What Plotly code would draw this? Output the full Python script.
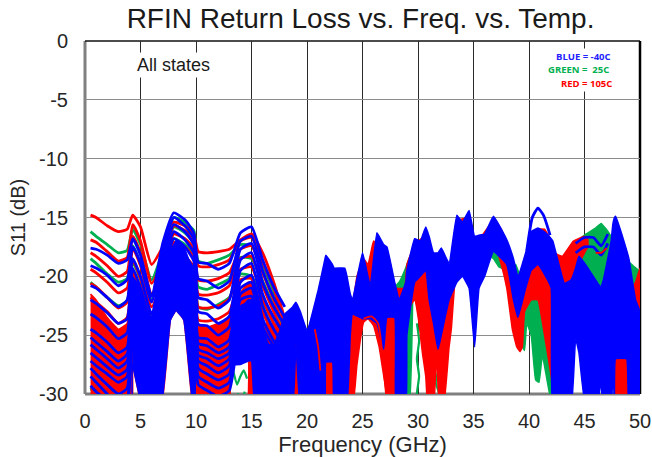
import plotly.graph_objects as go

LX = [0.5,1,2,3,3.8,4.3,5,6,7,8,9,9.8,10.2,11,12,13,14,15,16,17,18]

GREEN_LINES = [
 [-16.2,-16.6,-17.3,-18,-17.8,-16,-17.3,-20.3,-17.9,-15,-15.4,-16.1,-18.7,-18.9,-18.6,-18.2,-17.3,-17.4,-19,-21.3,-23.8],
 [-18.5,-18.9,-19.8,-20.5,-20.2,-17.4,-18.9,-22,-19,-15.8,-16.3,-17.2,-20.9,-21.1,-20.7,-20.2,-18.4,-18.5,-20.4,-22.5,-24.5],
 [-20.5,-20.9,-21.8,-22.5,-22.1,-18.8,-20.3,-23.4,-20,-16.8,-17.3,-18.2,-22.6,-22.8,-22.4,-21.8,-19.8,-20,-22,-24,-25.5],
]
RED_LINES = [
 [-14.8,-15,-15.7,-16.2,-16,-14.8,-15.8,-19,-17.5,-15.4,-15.7,-16.4,-17.9,-18,-17.9,-17.7,-16.9,-16.4,-18,-20.5,-23.6],
 [-16.9,-17.1,-17.9,-18.7,-18.4,-15.6,-17,-20.6,-18.6,-15.7,-16.1,-16.9,-19.1,-19.2,-19,-18.6,-17,-16.7,-18.8,-21,-24],
 [-18,-18.3,-19.1,-20,-19.6,-16.6,-18,-21.5,-19.4,-16.4,-16.8,-17.6,-20.3,-20.4,-20.2,-19.7,-17.7,-17.4,-19.7,-22,-24.5],
 [-19.4,-19.7,-20.5,-21.4,-21,-17.6,-19.1,-22.6,-20.2,-17.1,-17.5,-18.4,-21.5,-21.6,-21.4,-20.8,-18.5,-18.3,-20.8,-23,-25],
 [-20.6,-20.9,-21.8,-22.7,-22.2,-18.6,-20.2,-23.6,-21,-17.8,-18.3,-19.2,-22.6,-22.7,-22.5,-21.9,-19.4,-19.2,-21.9,-24,-26],
 [-21.8,-22.2,-23,-24,-23.5,-19.6,-21.3,-24.6,-21.8,-18.5,-19,-20,-23.7,-23.8,-23.6,-23,-20.3,-20.2,-23,-25,-27],
]
BLUE_LINES = [
 [-17.6,-17.7,-18.2,-18.9,-18.6,-16.8,-18.2,-21.7,-17.2,-14.6,-15.2,-16.3,-18.8,-18.9,-19.4,-18.9,-16.3,-15.8,-18.6,-20.9,-22.6],
 [-19.1,-19.3,-19.9,-20.8,-20.3,-17.5,-18.9,-22.2,-18,-15,-15.7,-16.8,-20.2,-20.4,-21,-20.4,-17,-16.6,-19.5,-21.8,-23.5],
 [-20.8,-21,-21.8,-22.6,-22,-18.5,-20,-23.2,-18.8,-15.6,-16.2,-17.3,-21.8,-22,-22.7,-22,-17.7,-17.2,-20.5,-22.6,-24.2],
 [-22,-22.3,-23.1,-24,-23.6,-19.3,-21,-24,-19.6,-16.2,-16.9,-18,-23,-23.2,-24,-23.4,-18.6,-18,-21.5,-23.5,-25],
 [-23.2,-23.5,-24.3,-25.3,-24.8,-20.2,-22,-25,-20.4,-16.8,-17.5,-18.7,-24.1,-24.2,-25,-24.3,-19.5,-18.9,-22.5,-24.5,-26],
 [-24.5,-24.8,-25.6,-26.5,-26,-21,-23,-26,-21.2,-17.4,-18.2,-19.5,-25.2,-25.3,-26,-25.4,-20.5,-19.9,-23.6,-25.5,-27],
 [-25.2,-25.6,-26.4,-27.2,-26.6,-21.5,-23.6,-26.6,-21.6,-17.8,-18.6,-19.8,-25.7,-25.9,-26.5,-26,-21,-20.5,-24.3,-26,-27.5],
 [-25.8,-26.2,-27,-27.8,-27.2,-22,-24.2,-27.2,-22,-18.2,-19,-20.2,-26.2,-26.5,-27,-26.5,-21.5,-21,-25,-26.5,-28],
 [-26.5,-26.9,-27.7,-28.4,-27.9,-22.5,-24.9,-27.9,-22.5,-18.6,-19.5,-20.7,-26.7,-27,-27.6,-27,-22,-21.7,-25.7,-27.2,-28.8],
 [-27.2,-27.6,-28.3,-29,-28.5,-23,-25.5,-28.5,-23,-19,-20,-21.2,-27.2,-27.6,-28.2,-27.6,-22.6,-22.3,-26.5,-28,-29.5],
 [-27.8,-28.3,-29.2,-30,-29.5,-23.5,-26.2,-29.2,-23.5,-19.5,-20.5,-21.8,-27.8,-28.3,-28.8,-28.3,-23.3,-23,-27.2,-29,-30.2],
 [-28.5,-29,-30,-31,-30.5,-24,-27,-30,-24,-20,-21,-22.5,-28.5,-29,-29.5,-29,-24,-24,-28,-30,-31],
 [-29.3,-29.8,-30.6,-31.5,-31,-24.6,-27.8,-30.6,-24.6,-20.6,-21.7,-23.2,-29.2,-29.7,-30.2,-29.7,-24.8,-25,-29,-31,-32],
]

# bundles too dense to separate: upper and lower edge of the trace family
GX = [35,36,36.8,37.3,38,38.5,38.8,39.2,39.4,39.6,
      39.8,40.2,40.6,40.9,41.2,41.7,42.1,42.5,43,44,
      45,45.5,46,46.5,47.2,47.6,48.2,48.6,49,49.5,50]
GTOP = [-16.8,-17,-16,-17,-18,-19,-19,-20,-20.5,-21,
        -21,-22,-20,-20,-20,-20,-20,-18.7,-18.5,-17.3,
        -16.5,-16.2,-15.9,-15.5,-16.3,-17,-20,-19.1,-18.8,-19.2,-19.6]
GBOT = [-18,-18,-18.5,-19.2,-19.5,-20,-20.5,-22,-26,-26.3,
        -24,-25,-28.8,-29,-26.7,-29.2,-31,-31,-31,-22,
        -19.5,-20,-20.4,-21,-20,-18,-19,-20,-20.5,-21,-21]
GX2 = [27.8,28.3,28.8,29.2,29.5]
GTOP2 = [-21,-20.5,-19.5,-18.5,-18]
GBOT2 = [-23,-24,-31,-31,-23]

GS_X = [[13.3,13.7,14,14.3,14.6],[13.4,13.8,14.1,14.4],[21.7,21.9,22.2,22.5,22.8],
        [26.4,27,27.4],[29.9,30.1,29.9,30.1,29.9,30.1],[31.5,31.8,31.6,31.9,31.7],[0.5,1]]
GS_Y = [[-27.8,-29.2,-28.5,-28,-28.7],[-30.5,-30,-30.5,-29.8],[-30.5,-28.3,-27.6,-28.5,-30],
        [-24,-28,-31],[-24,-25.5,-27,-28.5,-30,-31],[-26.8,-28,-29,-30,-31],[-29.5,-30.5]]

RLX = [0.5,1,2,3,3.8,4.25,4.3,5,6,6.95,7.7,
       8.2,8.9,9.66,10.2,11,12,13,13.2,14.7,14.75,15.3,16]
RLTOP = [-21.5,-22,-23.5,-24.5,-24,-19.5,-19.5,-21.5,-25,-22.5,-19.5,
         -19,-19.5,-21,-24,-24.3,-24,-23.5,-22.5,-20.5,-20.5,-21,-23]
RLBOT = [-31,-31,-31,-31,-31,-31,-27.5,-30.5,-31,-30.5,-23.7,
         -22.9,-23.7,-30.5,-31,-31,-31,-31,-27.2,-27.2,-31,-31,-31]

RX = [14.9,18,19,20,21,22,23,24.1,24.5,25.1,
      25.5,26,26.5,27,27.4,28,28.8,29,29.7,30.05,
      30.4,30.7,30.9,31.4,31.65,31.95,32.3,32.8,33,33.5,
      34.6,35.1,35.8,36.5,37,37.5,38,38.5,38.9,39.2,
      39.4,39.6,40.2,40.8,41.4,42,42.3,43,44,45,45.3]
RTOP = [-24,-24,-22.5,-25,-22,-19,-20,-22.3,-20,-18.5,
        -19,-17,-17.5,-18,-18.5,-21,-21,-19,-17.3,-17,
        -16.7,-16.2,-16.5,-18.5,-18.5,-18.2,-18.3,-19.2,-19,-15.3,
        -15,-17,-16.5,-15.6,-15.3,-16,-17.2,-18.7,-20.2,-20.3,
        -20.2,-20,-17,-16,-16,-17,-18,-18.3,-17,-16.6,-16.9]
RBOT = [-31,-31,-31,-31,-31,-31,-31,-31,-27.5,-23.9,
        -23.6,-24.2,-26,-29,-31,-31,-31,-23,-22,-23.7,
        -26.5,-28.5,-31,-31,-26.5,-31,-31,-26,-24.5,-19,
        -17.5,-18,-17.8,-17,-17.5,-19,-21,-24.5,-26,-26.4,
        -26,-23,-22,-22,-25,-28.5,-31,-31,-20,-18,-17.5]
RX4 = [47.7,48.9,49.3,49.6,50]
RTOP4 = [-22,-23,-21,-20.5,-19.3]
RBOT4 = [-31,-31,-31,-31,-31]
RS_X = [[20.7,21,21.2],[25.1,25.8,26.4,27.2],[46,46.5,47]]
RS_Y = [[-24.5,-26,-28],[-23.6,-23.4,-24,-31],[-18,-18,-17.6]]

BMX = [4.25,4.27,5,5.5,6,6.5,6.95,7.7,8.2,8.9,9.66,9.9]
BMTOP = [-20,-20,-21,-22.5,-23.5,-22,-20,-18,-17,-17.5,-19.5,-22]
BMBOT = [-31,-27.5,-30.5,-31,-31,-31,-30.5,-23.7,-22.9,-23.7,-30.5,-31]

BX = [13,13.2,14,14.7,15,15.3,16,16.5,17,17.6,
      18,18.7,19,19.4,20,21,21.6,21.7,22.3,22.45,
      23.4,23.6,23.9,24.1,25,25.7,26.3,26.9,27.2,27.9,
      28,28.3,28.9,29,29.7,30.2,30.7,31,31.4,31.8,
      32.1,32.8,33.5,34,34.6,35.1,35.5,36,36.8,38,
      38.6,39,39.7,40.2,40.8,41.5,42,42.15,43.2,43.8,
      44.2,44.5,45.1,46,46.2,46.45,46.7,47.4,47.55,47.7,
      47.8,48.8,49,49.6,50]
BTOP = [-26.5,-25,-22.8,-22,-22,-22.3,-24,-25.8,-25.8,-24.5,
        -23.2,-22.6,-22.2,-23,-24.6,-21.2,-18.6,-18.2,-19,-19.3,
        -19.3,-20,-21.5,-22,-18,-20.8,-16.3,-17.3,-17.5,-20.5,
        -20.9,-22,-20.5,-19.5,-16.8,-17,-15.8,-16.6,-18,-18,
        -17.6,-18.9,-14.8,-15.4,-14.4,-16.6,-16.5,-16.4,-14.9,-16.9,
        -18.5,-20,-18,-16.2,-15.9,-16.3,-16.8,-17,-20.6,-20.3,
        -19.3,-18.3,-19,-20.3,-20.6,-20.9,-20.3,-17,-15.6,-15,
        -14.9,-17.8,-18.5,-22,-23]
BBOT = [-27.3,-27.5,-27.5,-27.2,-27.2,-31,-31,-31,-31,-31,
        -31,-31,-25.7,-31,-31,-31,-31,-27.3,-27.3,-31,
        -31,-31,-25,-23.2,-23.6,-23.6,-24,-26.2,-23.5,-23.5,
        -31,-31,-31,-25,-20.5,-20,-19.5,-22,-24,-26.2,
        -25,-22,-20.5,-20,-21,-26,-21,-20,-17.9,-19,
        -22,-23.5,-21,-19.5,-19,-20,-21,-31,-31,-31,
        -25.3,-26.5,-31,-31,-31,-28.8,-31,-31,-27.4,-31,
        -27,-27,-31,-31,-31]
BS_X = [[44.2,45,45.8,46.5,47.1],[44.2,45,45.8,46.5,47.1],[39.8,40.3,40.8,41.3,41.9]]
BS_Y = [[-17.2,-16.7,-16.7,-17.4,-16.4],[-18,-17.5,-17.5,-18.2,-17.2],[-17.8,-15,-14.2,-14.8,-16.5]]

X_TICKS = [0,5,10,15,20,25,30,35,40,45,50]
Y_TICKS = [0,-5,-10,-15,-20,-25,-30]
Y_TICK_TEXT = ["0","-5","-10","-15","-20","-25","-30"]
GREEN, RED, BLUE = "#00b050", "#ff0000", "#0000ff"

for a, b, c in [(GX,GTOP,GBOT),(GX2,GTOP2,GBOT2),(RLX,RLTOP,RLBOT),(RX,RTOP,RBOT),(BMX,BMTOP,BMBOT),(BX,BTOP,BBOT)]:
    assert len(a) == len(b) == len(c), (len(a), len(b), len(c))

fig = go.Figure()

def curve(x, y, color, width=2.8):
    fig.add_trace(go.Scatter(x=x, y=y, mode="lines", line=dict(color=color, width=width, shape="spline", smoothing=0.5, simplify=False), hoverinfo="skip"))

def band(x, top, bot, color):
    fig.add_trace(go.Scatter(x=list(x)+list(x)[::-1], y=list(top)+list(bot)[::-1], mode="lines", fill="toself",
                             fillcolor=color, line=dict(color=color, width=1.5, shape="spline", smoothing=0.3, simplify=False), hoverinfo="skip"))

band(GX, GTOP, GBOT, GREEN)
band(GX2, GTOP2, GBOT2, GREEN)
for xs, ys in zip(GS_X, GS_Y):
    curve(xs, ys, GREEN, 2.2)
for ys in GREEN_LINES:
    curve(LX, ys, GREEN)
band(RLX, RLTOP, RLBOT, RED)
band(RX, RTOP, RBOT, RED)
band(RX4, RTOP4, RBOT4, RED)
for ys in RED_LINES:
    curve(LX, ys, RED)
band(BMX, BMTOP, BMBOT, BLUE)
band(BX, BTOP, BBOT, BLUE)
for ys in BLUE_LINES:
    curve(LX, ys, BLUE)
for xs, ys in zip(BS_X, BS_Y):
    curve(xs, ys, BLUE)
for xs, ys in zip(RS_X, RS_Y):
    curve(xs, ys, RED, 1.8)

FONT = "Liberation Sans"
fig.update_layout(
    width=652, height=457, autosize=False, showlegend=False,
    margin=dict(l=85, r=12, t=41, b=63, autoexpand=False),
    plot_bgcolor="white", paper_bgcolor="white",
    font=dict(family=FONT, color="#262626"),
    title=dict(text="RFIN Return Loss vs. Freq. vs. Temp.", font=dict(size=28, color="#1a1a1a", family=FONT),
               x=0.553, xanchor="center", y=0.96, yanchor="middle"),
    xaxis=dict(range=[0,50], tickmode="array", tickvals=X_TICKS, showgrid=True, gridcolor="#2a2a2a", gridwidth=1, zeroline=False,
               ticks="outside", ticklen=9, tickcolor="rgba(0,0,0,0)", tickfont=dict(size=20), automargin=False,
               title=dict(text="Frequency (GHz)", font=dict(size=22), standoff=4)),
    yaxis=dict(range=[-30,0], tickmode="array", tickvals=Y_TICKS, ticktext=Y_TICK_TEXT, showgrid=True, gridcolor="#8c8c8c", gridwidth=1, zeroline=False,
               ticks="outside", ticklen=12, tickcolor="rgba(0,0,0,0)", tickfont=dict(size=20), automargin=False,
               title=dict(text="S11 (dB)", font=dict(size=20), standoff=8)),
    shapes=[
        dict(type="line", xref="paper", yref="paper", x0=0, x1=0, y0=0, y1=1, line=dict(color="#808080", width=3), layer="below"),
        dict(type="line", xref="paper", yref="paper", x0=0, x1=1, y0=0, y1=0, line=dict(color="#808080", width=3), layer="below"),
        dict(type="line", xref="paper", yref="paper", x0=0, x1=1, y0=1, y1=1, line=dict(color="#111111", width=1.5), layer="below"),
        dict(type="line", xref="paper", yref="paper", x0=1, x1=1, y0=0, y1=1, line=dict(color="#000000", width=2.5), layer="below"),
    ],
    annotations=[
        dict(text="All states", x=8.0, y=-2.0, xref="x", yref="y", showarrow=False, bgcolor="white",
             font=dict(size=18, color="#1a1a1a"), borderpad=2),
        dict(text="<b>BLUE = -40C</b>", x=44.9, y=-1.3, xref="x", yref="y", showarrow=False, bgcolor="white",
             font=dict(size=9.5, color="#2222ff", family="Open Sans")),
        dict(text="<b>GREEN =  25C</b>", x=44.5, y=-2.45, xref="x", yref="y", showarrow=False, bgcolor="white",
             font=dict(size=9.5, color=GREEN, family="Open Sans")),
        dict(text="<b>RED = 105C</b>", x=45.2, y=-3.6, xref="x", yref="y", showarrow=False, bgcolor="white",
             font=dict(size=9.5, color=RED, family="Open Sans")),
    ],
)
fig.write_html("out.html", config={"displayModeBar": False},
               post_script="document.body.style.margin='0';document.body.style.overflow='hidden';")
